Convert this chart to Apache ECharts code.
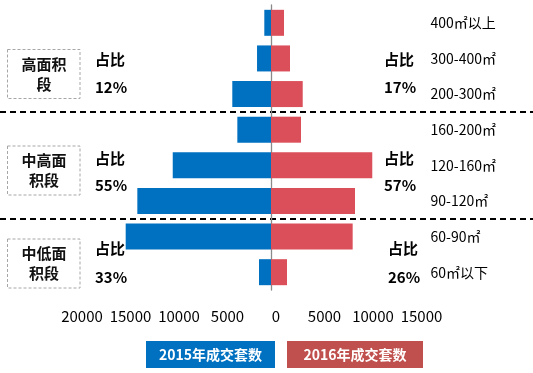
<!DOCTYPE html>
<html><head><meta charset="utf-8">
<script src="https://cdn.jsdelivr.net/npm/echarts@6/dist/echarts.min.js"></script>
<style>html,body{margin:0;padding:0;background:#fff}#c{width:533px;height:373px}</style>
</head><body><div id="c"></div>
<script>
const categories = ['400㎡以上','300-400㎡','200-300㎡','160-200㎡','120-160㎡','90-120㎡','60-90㎡','60㎡以下'];
const sales2015 = [690, 1440, 3990, 3470, 10130, 13780, 14980, 1240];
const sales2016 = [1340, 1960, 3270, 3090, 10440, 8660, 8420, 1650];
const seriesNames = ['2015年成交套数', '2016年成交套数'];
const groupNames = [['高面积','段'], ['中高面','积段'], ['中低面','积段']];
const groupFirst = [0, 3, 6];
const groupLast = [2, 5, 7];
const share2015 = ['12%', '55%', '33%'];
const share2016 = ['17%', '57%', '26%'];
const shareTitle = '占比';

const FONT = '"Noto Sans CJK SC", "Microsoft YaHei", sans-serif';
const chart = echarts.init(document.getElementById('c'));
chart.setOption({
  animation: false,
  grid: { left: 77, right: 116.5, top: 5, bottom: 83 },
  xAxis: {
    type: 'value', min: -20000, max: 15000, interval: 5000,
    splitLine: { show: false }, axisLine: { show: false }, axisTick: { show: false },
    axisLabel: { formatter: v => String(Math.abs(v)), color: '#000', fontSize: 15, fontFamily: FONT, margin: 19, padding: [0,0,0,10] }
  },
  yAxis: [
    { type: 'category', data: categories, inverse: true,
      axisLine: { show: true, onZero: true, lineStyle: { color: '#8a8a8a', width: 1.3 } },
      axisTick: { show: false }, axisLabel: { show: false } },
    { type: 'category', data: categories, inverse: true, position: 'right',
      axisLine: { show: false, onZero: false }, axisTick: { show: false },
      axisLabel: { color: '#000', fontSize: 14, fontFamily: FONT, margin: 14, align: 'left' } }
  ],
  series: [
    { name: seriesNames[0], type: 'bar', stack: 'a', barCategoryGap: '27%',
      itemStyle: { color: '#0070C0' }, data: sales2015.map(v => -v) },
    { name: seriesNames[1], type: 'bar', stack: 'a', barCategoryGap: '27%',
      itemStyle: { color: '#DB4F5A' }, data: sales2016 }
  ]
});

// annotations positioned from the axis scale
const yOf = i => chart.convertToPixel({ yAxisIndex: 0 }, categories[i]);
const band = yOf(1) - yOf(0);
const graphics = [];
const sepAfter = [2, 5];
sepAfter.forEach(i => {
  const y = Math.round((yOf(i) + yOf(i + 1)) / 2);
  graphics.push({ type: 'line', shape: { x1: 0, y1: y, x2: 533, y2: y },
    style: { stroke: '#000', lineWidth: 2, lineDash: [6, 4] } });
});
const boxCenter = [74, 170.5, 263.5];
const titleDy = [1, -7, -6];
const pctDy = [29, 20, 23];
const rightX = [384, 384, 388];
groupNames.forEach((g, k) => {
  const mid = (yOf(groupFirst[k]) + yOf(groupLast[k])) / 2;
  const bc = boxCenter[k];
  graphics.push({ type: 'rect', shape: { x: 7.5, y: bc - 24.5, width: 72.5, height: 49 },
    style: { fill: 'none', stroke: '#a6a6a6', lineWidth: 1, lineDash: [3, 2] } });
  graphics.push({ type: 'text', x: 44, y: bc - 10, style: { text: g[0], font: 'bold 15px ' + FONT, fill: '#111', align: 'center', verticalAlign: 'middle' } });
  graphics.push({ type: 'text', x: 44, y: bc + 10, style: { text: g[1], font: 'bold 15px ' + FONT, fill: '#111', align: 'center', verticalAlign: 'middle' } });
  const ty = mid + titleDy[k], py = mid + pctDy[k];
  [[95, share2015[k]], [rightX[k], share2016[k]]].forEach(([x, pct]) => {
    graphics.push({ type: 'text', x: x, y: ty, style: { text: shareTitle, font: 'bold 15px ' + FONT, fill: '#000', verticalAlign: 'middle' } });
    graphics.push({ type: 'text', x: x, y: py, style: { text: pct, font: 'bold 15px ' + FONT, fill: '#000', verticalAlign: 'middle' } });
  });
});
// legend boxes
const legendBoxes = [{ x: 146, w: 129, c: '#0070C0' }, { x: 287, w: 136, c: '#C0504D' }];
legendBoxes.forEach((b, i) => {
  graphics.push({ type: 'rect', shape: { x: b.x, y: 341, width: b.w, height: 27 }, style: { fill: b.c } });
  graphics.push({ type: 'text', x: b.x + b.w / 2, y: 354.5, style: { text: seriesNames[i], font: 'bold 14px ' + FONT, fill: '#fff', align: 'center', verticalAlign: 'middle' } });
});
chart.setOption({ graphic: graphics });
</script></body></html>
